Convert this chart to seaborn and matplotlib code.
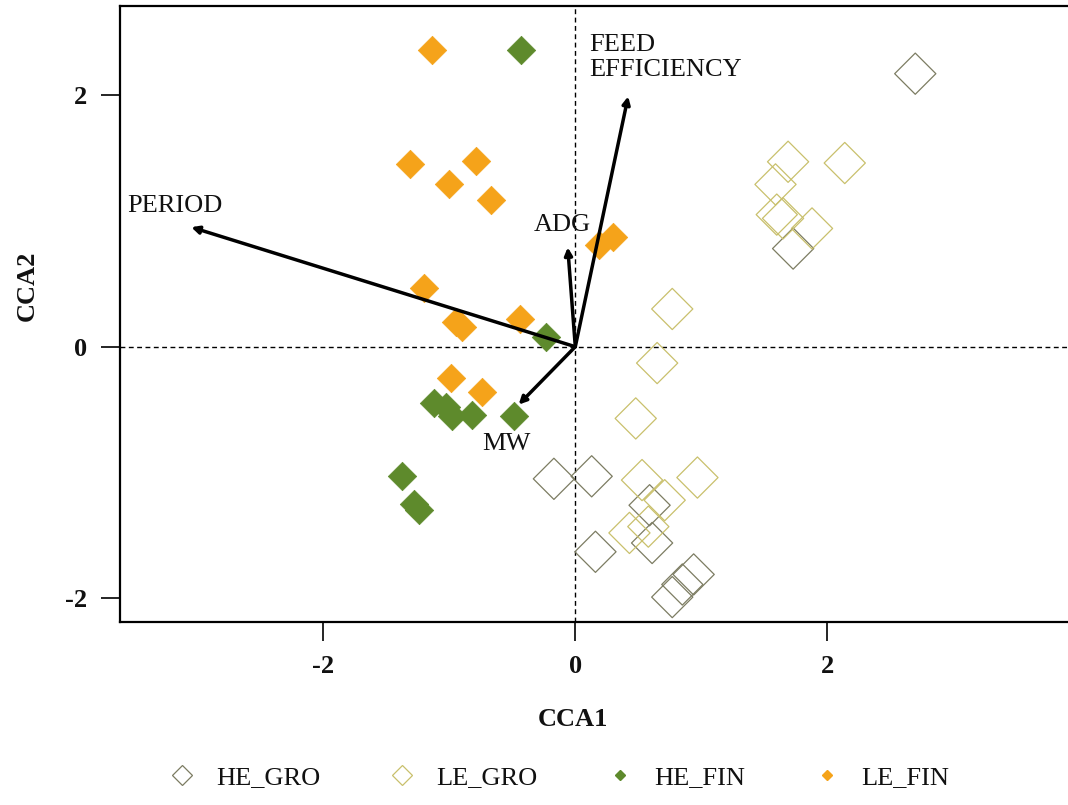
import matplotlib
matplotlib.use('Agg')
import matplotlib.pyplot as plt
from matplotlib.lines import Line2D
import seaborn as sns
import pandas as pd

# site scores
he_gro_x = [2.70, 1.73, -0.17, 0.13, 0.59, 0.61, 0.16, 0.94, 0.77, 0.85]
he_gro_y = [2.17, 0.78, -1.05, -1.03, -1.26, -1.56, -1.63, -1.81, -1.99, -1.89]
le_gro_x = [1.69, 2.14, 1.59, 1.60, 1.65, 1.88, 0.77, 0.65, 0.48, 0.53, 0.97, 0.71, 0.43, 0.58]
le_gro_y = [1.47, 1.46, 1.29, 1.05, 1.02, 0.94, 0.30, -0.13, -0.57, -1.06, -1.04, -1.22, -1.48, -1.43]
he_fin_x = [-0.43, -0.23, -1.12, -1.03, -0.98, -0.82, -0.49, -1.38, -1.28, -1.24]
he_fin_y = [2.36, 0.08, -0.45, -0.48, -0.55, -0.54, -0.55, -1.03, -1.25, -1.30]
le_fin_x = [-1.14, -1.31, -1.00, -0.79, -0.67, -1.20, -0.95, -0.90, -0.44, -0.99, -0.74, 0.19, 0.30]
le_fin_y = [2.36, 1.45, 1.29, 1.48, 1.17, 0.47, 0.20, 0.16, 0.22, -0.25, -0.36, 0.81, 0.87]

# environmental vectors
env_names = ['PERIOD', 'ADG', 'FEED\nEFFICIENCY', 'MW']
env_x = [-3.05, -0.06, 0.42, -0.45]
env_y = [0.95, 0.79, 1.99, -0.46]
lab_x = [-3.56, -0.33, 0.11, -0.74]
lab_y = [1.12, 0.97, 2.30, -0.77]

groups = ['HE_GRO', 'LE_GRO', 'HE_FIN', 'LE_FIN']
colors = {'HE_GRO': '#7c7c62', 'LE_GRO': '#c9c06c', 'HE_FIN': '#5e8a2c', 'LE_FIN': '#f5a31a'}

df = pd.concat([
    pd.DataFrame({'CCA1': he_gro_x, 'CCA2': he_gro_y, 'group': 'HE_GRO'}),
    pd.DataFrame({'CCA1': le_gro_x, 'CCA2': le_gro_y, 'group': 'LE_GRO'}),
    pd.DataFrame({'CCA1': he_fin_x, 'CCA2': he_fin_y, 'group': 'HE_FIN'}),
    pd.DataFrame({'CCA1': le_fin_x, 'CCA2': le_fin_y, 'group': 'LE_FIN'}),
], ignore_index=True)

sns.set_style('white')
plt.rcParams['font.family'] = ['Liberation Serif', 'DejaVu Serif']
plt.rcParams['text.color'] = '#111111'

fig = plt.figure(figsize=(10.68, 8.05), dpi=100)
ax = fig.add_axes([120 / 1068, 1 - 622 / 805, 1 - 120 / 1068 + 0.002, (622 - 6) / 805])

ax.axhline(0, color='black', lw=1, ls=(0, (3.5, 2.5)), zorder=1)
ax.axvline(0, color='black', lw=1, ls=(0, (3.5, 2.5)), zorder=1)

for g in ['HE_GRO', 'LE_GRO']:
    sub = df[df['group'] == g]
    sns.scatterplot(data=sub, x='CCA1', y='CCA2', marker='D', s=440,
                    facecolor='none', edgecolor=colors[g], linewidth=0.9,
                    ax=ax, zorder=2, legend=False)
for g in ['HE_FIN', 'LE_FIN']:
    sub = df[df['group'] == g]
    sns.scatterplot(data=sub, x='CCA1', y='CCA2', marker='D', s=210,
                    color=colors[g], edgecolor=colors[g], linewidth=0.5,
                    ax=ax, zorder=3, legend=False)

for name, ex, ey, tx, ty in zip(env_names, env_x, env_y, lab_x, lab_y):
    ax.annotate('', xy=(ex, ey), xytext=(0, 0),
                arrowprops=dict(arrowstyle='-|>', color='black', lw=2.5,
                                mutation_scale=11, shrinkA=0, shrinkB=0),
                zorder=4)
    ax.text(tx, ty, name, fontsize=19, ha='left', va='center',
            linespacing=1.2, zorder=5)

ax.set_xlim(-3.616, 3.93)
ax.set_ylim(-2.188, 2.708)
ax.set_xticks([-2, 0, 2])
ax.set_yticks([-2, 0, 2])
ax.set_xticklabels(['-2', '0', '2'], fontsize=19, fontweight='bold', color='#111111')
ax.set_yticklabels(['-2', '0', '2'], fontsize=19, fontweight='bold', color='#111111')
ax.tick_params(axis='both', direction='out', length=14, width=1.2,
               color='black', pad=10, left=True, bottom=True)

for side in ['left', 'top', 'bottom']:
    ax.spines[side].set_color('black')
    ax.spines[side].set_linewidth(1.6)
ax.spines['right'].set_visible(False)

ax.set_xlabel('CCA1', fontsize=19, fontweight='bold', color='#111111')
ax.set_ylabel('CCA2', fontsize=19, fontweight='bold', color='#111111')
ax.xaxis.set_label_coords(0.477, -0.14)
ax.yaxis.set_label_coords(-0.085, 0.545)

handles = [
    Line2D([], [], marker='D', ls='none', markersize=10, markerfacecolor='none',
           markeredgecolor=colors['HE_GRO'], markeredgewidth=0.9),
    Line2D([], [], marker='D', ls='none', markersize=10, markerfacecolor='none',
           markeredgecolor=colors['LE_GRO'], markeredgewidth=0.9),
    Line2D([], [], marker='D', ls='none', markersize=5, color=colors['HE_FIN']),
    Line2D([], [], marker='D', ls='none', markersize=5, color=colors['LE_FIN']),
]
fig.legend(handles, groups, loc='center', bbox_to_anchor=(0.522, 0.034),
           ncol=4, frameon=False, fontsize=19, handletextpad=0.7,
           columnspacing=2.5, handlelength=1.2)

fig.savefig('out.png', dpi=100)
